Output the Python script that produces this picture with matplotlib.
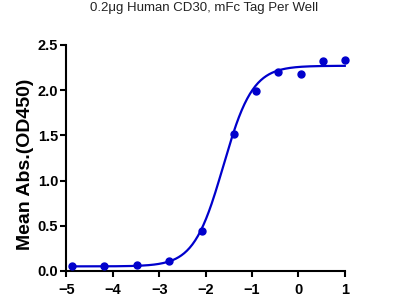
import numpy as np
import matplotlib
matplotlib.use("Agg")
import matplotlib.pyplot as plt

plt.rcParams['font.family'] = ['Liberation Sans', 'DejaVu Sans']

# datos: log10 concentracion vs absorbancia media
log_conc = [-4.88, -4.18, -3.48, -2.78, -2.08, -1.39, -0.91, -0.43, 0.05, 0.52, 1.0]
mean_abs = [0.05, 0.05, 0.06, 0.11, 0.44, 1.52, 1.99, 2.20, 2.18, 2.32, 2.33]

# parametros del ajuste 4PL
bottom = 0.05
top = 2.27
log_ec50 = -1.62
hill = 1.37

titulo = "0.2\u03bcg Human CD30, mFc Tag Per Well"
color = "#0000CC"

xf = np.linspace(log_conc[0], log_conc[-1], 300)
yf = bottom + (top - bottom) / (1 + 10 ** ((log_ec50 - xf) * hill))

fig = plt.figure(figsize=(4, 3), dpi=100)
ax = fig.add_axes([0.166, 0.097, 0.696, 0.753])

ax.plot(xf, yf, color=color, lw=1.6, clip_on=False)
ax.plot(log_conc, mean_abs, "o", color=color, ms=5, clip_on=False, zorder=3)

ax.set_xlim(-5, 1)
ax.set_ylim(0, 2.5)
ax.set_xticks(range(-5, 2))
ax.set_yticks([0, 0.5, 1.0, 1.5, 2.0, 2.5])
ax.set_yticklabels(["0.0", "0.5", "1.0", "1.5", "2.0", "2.5"])

for s in ["top", "right"]:
    ax.spines[s].set_visible(False)
for s in ["left", "bottom"]:
    ax.spines[s].set_linewidth(1.5)
ax.tick_params(width=1.5, length=4.5, labelsize=10.5)
ax.tick_params(axis="x", pad=4)
ax.tick_params(axis="y", pad=1.5)
for lbl in ax.get_xticklabels() + ax.get_yticklabels():
    lbl.set_fontweight("bold")

ax.set_ylabel("Mean Abs.(OD450)", fontsize=14, fontweight="bold")
ax.yaxis.set_label_coords(-0.115, 0.47)
fig.text(0.51, 0.975, titulo, ha="center", va="center", fontsize=9.5, color="#222222")

fig.savefig("out.png", dpi=100)
